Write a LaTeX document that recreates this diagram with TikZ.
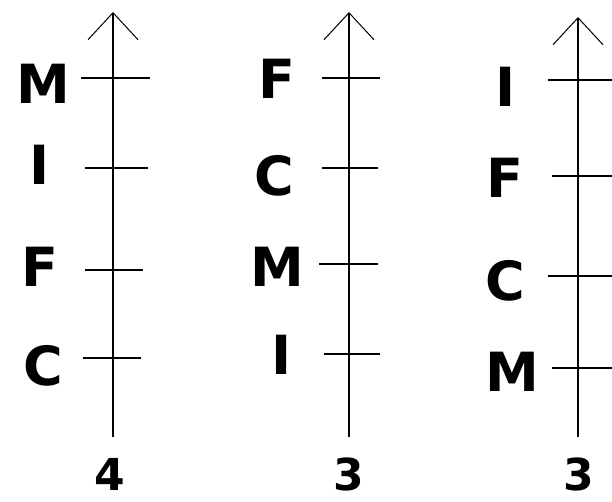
\documentclass[tikz,border=0pt]{standalone}
\usepackage{fontspec}
\setmainfont{DejaVu Sans}
\usetikzlibrary{arrows.meta, positioning}
\tikzstyle{item} = [font=\fontsize{54}{54}\selectfont\bfseries, inner sep=0pt]
\tikzstyle{count} = [font=\fontsize{44}{44}\selectfont\bfseries, inner sep=0pt]
\tikzstyle{axis} = [line width=1.5pt, -{Straight Barb[length=27pt, width=50pt, line width=1pt]}]
\tikzstyle{tick} = [line width=1.5pt]

\begin{document}
\begin{tikzpicture}[x=1pt, y=-1pt]
        \useasboundingbox (0,0) rectangle (612,502);

        % first ranking
        \coordinate (base1) at (113,437);
        \coordinate (top1) at (113,12);
        \draw [axis] (base1) -- (top1);
        \draw [tick] (81,78) -- (150,78);
        \draw [tick] (85,168) -- (148,168);
        \draw [tick] (85,270) -- (143,270);
        \draw [tick] (83,358) -- (141,358);
        \node (m1) [item] at (43,84) {M};
        \node (i1) [item] at (40,165) {I};
        \node (f1) [item] at (40,267) {F};
        \node (c1) [item] at (43,366) {C};
        \node (n1) [count] at (110,474) {4};

        % second ranking
        \coordinate (base2) at (349,437);
        \coordinate (top2) at (349,12);
        \draw [axis] (base2) -- (top2);
        \draw [tick] (322,78) -- (380,78);
        \draw [tick] (322,168) -- (378,168);
        \draw [tick] (319,264) -- (378,264);
        \draw [tick] (324,354) -- (380,354);
        \node (f2) [item] at (277,79) {F};
        \node (c2) [item] at (274,176) {C};
        \node (m2) [item] at (277,267) {M};
        \node (i2) [item] at (282,355) {I};
        \node (n2) [count] at (349,474) {3};

        % third ranking
        \coordinate (base3) at (578,437);
        \coordinate (top3) at (578,17);
        \draw [axis] (base3) -- (top3);
        \draw [tick] (548,80) -- (615,80);
        \draw [tick] (552,176) -- (615,176);
        \draw [tick] (548,276) -- (612,276);
        \draw [tick] (552,368) -- (615,368);
        \node (i3) [item] at (506,87) {I};
        \node (f3) [item] at (505,178) {F};
        \node (c3) [item] at (505,281) {C};
        \node (m3) [item] at (512,372) {M};
        \node (n3) [count] at (579,474) {3};
    \end{tikzpicture}
\end{document}
